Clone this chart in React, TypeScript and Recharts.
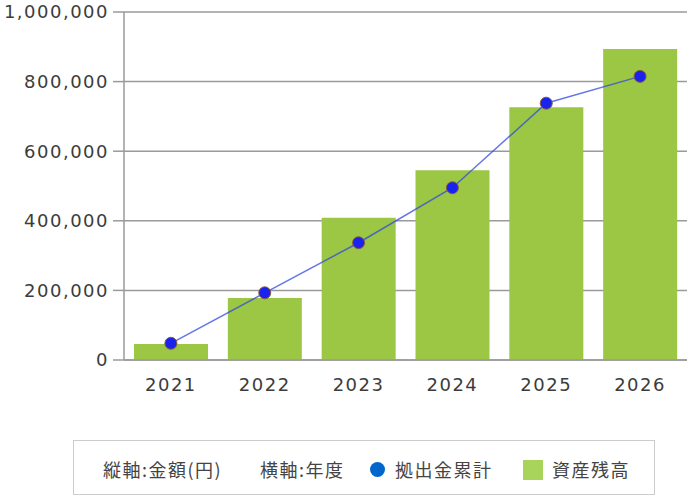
import React from 'react';
import { ComposedChart, Bar, Line, XAxis, YAxis, CartesianGrid } from 'recharts';

const years = ['2021', '2022', '2023', '2024', '2025', '2026'];
const balance = [46000, 178000, 409000, 545000, 726000, 894000];
const contrib = [48000, 193000, 337000, 495000, 738000, 815000];
const yTicks = [0, 200000, 400000, 600000, 800000, 1000000];

const data = years.map((y, i) => ({ year: y, balance: balance[i], contrib: contrib[i] }));

const fmt = (v: number) => v.toLocaleString('en-US');

const tickStyle = { fontFamily: 'DejaVu Sans', fontSize: 18, fill: '#3c3c3c', letterSpacing: 1.5 };

const legendText: React.CSSProperties = {
  position: 'absolute',
  top: 456,
  height: 26,
  lineHeight: '26px',
  fontFamily: '"Noto Sans CJK JP"',
  fontSize: 18,
  color: '#444',
  letterSpacing: 1.5,
  whiteSpace: 'nowrap',
};

export default function App() {
  return (
    <div style={{ position: 'absolute', left: 0, top: 0, width: 700, height: 500, background: '#fff' }}>
      <ComposedChart width={700} height={500} data={data} margin={{ top: 12, right: 13, bottom: 110, left: 0 }}>
        <CartesianGrid vertical={false} stroke="#9a9a9a" strokeWidth={1.5} />
        <XAxis
          dataKey="year"
          height={30}
          tickLine={false}
          axisLine={{ stroke: '#9a9a9a', strokeWidth: 1.5 }}
          tick={tickStyle}
          tickMargin={12}
        />
        <YAxis
          width={124}
          domain={[0, 1000000]}
          ticks={yTicks}
          tickFormatter={fmt}
          tickSize={11}
          tickMargin={4}
          tickLine={{ stroke: '#9a9a9a', strokeWidth: 1.5 }}
          axisLine={{ stroke: '#9a9a9a', strokeWidth: 1.5 }}
          tick={tickStyle}
          interval={0}
        />
        <Bar dataKey="balance" fill="#9bc744" barSize={74} isAnimationActive={false} />
        <Line
          dataKey="contrib"
          stroke="#3048e0"
          strokeOpacity={0.75}
          strokeWidth={1.5}
          dot={{ r: 6, fill: '#1a22ee', stroke: '#8a5a3a', strokeWidth: 1, fillOpacity: 1, strokeOpacity: 1 }}
          isAnimationActive={false}
        />
      </ComposedChart>
      <div
        style={{
          position: 'absolute',
          left: 73,
          top: 440,
          width: 580,
          height: 53,
          border: '1px solid #cccccc',
        }}
      />
      <span style={{ ...legendText, left: 103 }}>縦軸:金額(円)</span>
      <span style={{ ...legendText, left: 260 }}>横軸:年度</span>
      <span
        style={{
          position: 'absolute',
          left: 370,
          top: 462,
          width: 15,
          height: 15,
          borderRadius: '50%',
          background: '#0066cc',
        }}
      />
      <span style={{ ...legendText, left: 395 }}>拠出金累計</span>
      <span
        style={{
          position: 'absolute',
          left: 523,
          top: 460,
          width: 20,
          height: 20,
          background: '#a8d45c',
        }}
      />
      <span style={{ ...legendText, left: 552 }}>資産残高</span>
    </div>
  );
}
